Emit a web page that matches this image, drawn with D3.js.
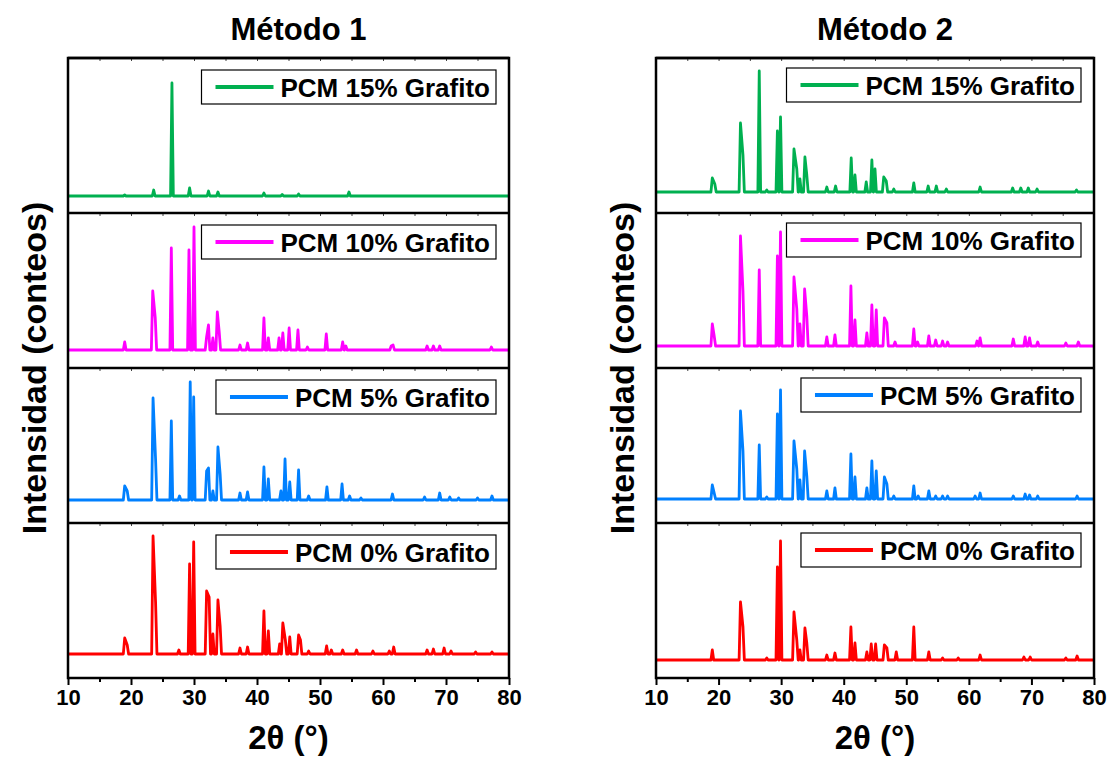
<!DOCTYPE html>
<html>
<head>
<meta charset="utf-8">
<script src="https://cdn.jsdelivr.net/npm/d3@7"></script>
<style>
  html, body { margin: 0; padding: 0; background: #fff; }
  svg { display: block; }
  text { font-family: "Liberation Sans", Arial, sans-serif; font-weight: bold; fill: #000; }
</style>
</head>
<body>
<svg id="chart" width="1108" height="757"></svg>
<script>
// X-ray diffraction patterns of the PCM with graphite, two preparation methods.
// Each pattern: a flat baseline (counts) plus a list of reflections [2θ (°), height above baseline (counts)].
const methodTitles = ["Método 1", "Método 2"];
const seriesLabels = ["PCM 15% Grafito", "PCM 10% Grafito", "PCM 5% Grafito", "PCM 0% Grafito"];
const seriesColors = ["#00b050", "#ff00ff", "#0080ff", "#ff0000"];
const xTicks = [10, 20, 30, 40, 50, 60, 70, 80];

// Método 1
const m1Baselines = [170, 180, 230, 240];
const m1_15 = [[19.0,10],[23.6,60],[26.5,1130],[29.3,80],[32.3,50],[33.8,40],[41.1,30],[44.0,15],[46.6,20],[54.6,40]];
const m1_10 = [[19.0,80],[23.45,590],[23.85,320],[26.4,1020],[29.2,1000],[30.0,1230],[32.0,130],[32.3,250],[33.0,120],[33.7,380],[34.0,180],[37.3,50],[38.5,70],[41.1,320],[41.8,120],[43.5,120],[44.1,170],[45.1,220],[46.5,200],[48.0,30],[51.0,160],[53.6,80],[54.1,40],[61.3,40],[61.6,50],[67.0,40],[68.0,40],[69.0,40],[77.2,30]];
const m1_5 = [[19.0,140],[19.4,90],[23.5,1020],[23.9,410],[26.4,790],[27.7,40],[29.4,1180],[29.95,1030],[32.0,290],[32.3,320],[33.0,90],[33.8,530],[34.15,260],[37.3,70],[38.5,80],[41.1,330],[41.8,210],[43.8,90],[44.45,410],[45.2,180],[46.6,300],[48.2,40],[51.1,130],[53.5,160],[54.7,40],[56.5,20],[61.5,60],[66.6,30],[69.0,70],[70.6,30],[72.0,20],[75.0,20],[77.3,40]];
const m1_0 = [[19.0,160],[19.4,90],[23.5,1180],[23.9,520],[27.6,40],[29.3,900],[29.95,1120],[32.0,630],[32.4,570],[33.0,200],[33.8,540],[34.15,280],[37.3,60],[38.5,70],[41.1,430],[41.8,230],[43.6,100],[44.1,310],[44.5,140],[45.2,170],[46.6,190],[46.9,140],[48.2,30],[51.05,80],[51.8,40],[53.6,40],[55.8,40],[58.4,30],[61.0,30],[61.7,70],[67.0,40],[68.0,50],[69.7,60],[70.8,30],[74.7,20],[77.3,20]];

// Método 2
const m2Baselines = [210, 220, 240, 180];
const m2_15 = [[19.0,140],[19.4,80],[23.5,690],[23.9,370],[26.5,1210],[27.7,20],[29.4,610],[29.9,750],[32.05,430],[32.5,230],[33.0,130],[33.8,350],[34.1,170],[37.3,50],[38.7,60],[41.2,340],[41.8,170],[43.6,100],[44.5,320],[45.0,230],[46.4,150],[46.8,110],[48.0,30],[51.2,90],[53.5,60],[54.8,60],[56.4,30],[61.8,50],[67.0,40],[68.3,40],[69.5,40],[70.9,30],[77.2,20]];
const m2_10 = [[19.0,220],[19.3,100],[23.5,1100],[23.9,550],[26.5,760],[29.4,900],[29.9,1140],[32.05,690],[32.5,370],[33.0,220],[33.75,570],[34.1,300],[37.3,90],[38.6,110],[41.15,600],[41.8,260],[43.7,130],[44.5,410],[45.2,360],[46.5,280],[46.9,230],[48.2,40],[51.2,170],[51.8,40],[53.6,100],[54.7,60],[55.8,50],[56.6,40],[61.3,50],[61.8,80],[67.1,70],[69.0,90],[69.7,80],[71.0,40],[75.5,30],[77.5,40]];
const m2_5 = [[19.0,140],[19.3,60],[23.5,880],[23.9,480],[26.5,540],[27.7,20],[29.4,850],[29.9,1090],[32.05,580],[32.5,300],[33.0,190],[33.75,480],[34.1,230],[37.3,80],[38.6,110],[41.15,450],[41.8,220],[43.7,110],[44.5,380],[45.2,280],[46.5,220],[46.9,150],[48.0,30],[51.2,130],[51.9,30],[53.6,80],[54.7,30],[55.8,30],[56.6,30],[61.0,30],[61.8,60],[67.1,30],[69.0,50],[69.7,40],[71.0,30],[77.3,30]];
const m2_0 = [[19.0,100],[23.5,580],[23.9,330],[27.7,20],[29.4,930],[29.9,1190],[32.05,480],[32.5,200],[33.0,100],[33.8,320],[34.1,170],[37.3,50],[38.6,70],[41.15,330],[41.8,170],[43.7,80],[44.4,160],[45.1,160],[46.5,150],[46.9,120],[48.4,80],[51.2,330],[53.6,80],[55.8,20],[58.3,20],[61.8,50],[68.8,30],[69.8,30],[75.5,20],[77.3,40]];

const methods = [
  { title: methodTitles[0], baselines: m1Baselines, patterns: [m1_15, m1_10, m1_5, m1_0], x0: 68, x1: 509, legendTop: 12, yTitleX: 46 },
  { title: methodTitles[1], baselines: m2Baselines, patterns: [m2_15, m2_10, m2_5, m2_0], x0: 656, x1: 1094, legendTop: 10, yTitleX: 634 }
];

const svg = d3.select("#chart");
const plotTop = 58, subH = 155, nSub = 4;
const plotBottom = plotTop + subH * nSub;
const halfWidth = 0.22;   // half width of a reflection (°)
const mergeGap = 0.5;     // reflections closer than this share a flank

// vertices of a pattern: baseline ends, and for each reflection its feet and apex
function patternPoints(peaks, base) {
  const sorted = peaks.slice().sort((a, b) => a[0] - b[0]);
  const pts = [[10, base]];
  sorted.forEach((p, i) => {
    const prev = sorted[i - 1], next = sorted[i + 1];
    if (!prev || p[0] - prev[0] >= mergeGap) pts.push([p[0] - halfWidth, base]);
    pts.push([p[0], base + p[1]]);
    if (!next || next[0] - p[0] >= mergeGap) pts.push([p[0] + halfWidth, base]);
  });
  pts.push([80, base]);
  return pts;
}

methods.forEach(m => {
  const x = d3.scaleLinear().domain([10, 80]).range([m.x0, m.x1]);
  const g = svg.append("g");

  m.patterns.forEach((peaks, i) => {
    const y0 = plotTop + subH * i, y1 = y0 + subH;
    const y = d3.scaleLinear().domain([0, 1550]).range([y1, y0]);

    // inward ticks on the top edge of each stacked panel
    g.append("g")
      .attr("transform", `translate(0,${y0})`)
      .call(d3.axisTop(x).tickValues(d3.range(15, 80, 5)).tickSize(-3).tickFormat(""))
      .call(a => a.select(".domain").remove())
      .call(a => a.selectAll("line").attr("stroke", "#444").attr("stroke-width", 1));

    const line = d3.line().x(d => x(d[0])).y(d => y(d[1]));
    g.append("path")
      .datum(patternPoints(peaks, m.baselines[i]))
      .attr("d", line)
      .attr("fill", "none")
      .attr("stroke", seriesColors[i])
      .attr("stroke-width", 2.8)
      .attr("stroke-linejoin", "round");

    // legend
    const lg = g.append("g");
    const label = lg.append("text")
      .attr("font-size", 26)
      .text(seriesLabels[i]);
    const tw = label.node().getComputedTextLength();
    const boxH = 34;
    const boxW = 14 + 58 + 7 + tw + 6;
    const bx = m.x1 - 13 - boxW, by = y0 + m.legendTop;
    lg.insert("rect", "text")
      .attr("x", bx).attr("y", by).attr("width", boxW).attr("height", boxH)
      .attr("fill", "#fff").attr("stroke", "#000").attr("stroke-width", 1.2);
    lg.append("line")
      .attr("x1", bx + 14).attr("x2", bx + 72)
      .attr("y1", by + boxH / 2).attr("y2", by + boxH / 2)
      .attr("stroke", seriesColors[i]).attr("stroke-width", 4);
    label.attr("x", bx + 79).attr("y", by + boxH / 2 + 9.5);

    // separator / frame edge
    g.append("line")
      .attr("x1", m.x0).attr("x2", m.x1).attr("y1", y0).attr("y2", y0)
      .attr("stroke", "#000").attr("stroke-width", 2.5);
  });

  // outer frame
  g.append("rect")
    .attr("x", m.x0).attr("y", plotTop).attr("width", m.x1 - m.x0).attr("height", plotBottom - plotTop)
    .attr("fill", "none").attr("stroke", "#000").attr("stroke-width", 2.5);

  // bottom axis with labels
  const ax = g.append("g").attr("transform", `translate(0,${plotBottom})`);
  ax.call(d3.axisBottom(x).tickValues(xTicks).tickSize(7).tickPadding(4).tickFormat(d3.format("d")))
    .call(a => a.select(".domain").remove())
    .call(a => a.selectAll("line").attr("stroke", "#000").attr("stroke-width", 2))
    .call(a => a.selectAll("text").attr("font-size", 22).attr("font-family", "Liberation Sans, Arial, sans-serif").attr("font-weight", "bold"));
  g.append("g").attr("transform", `translate(0,${plotBottom})`)
    .call(d3.axisBottom(x).tickValues(d3.range(15, 80, 10)).tickSize(4).tickFormat(""))
    .call(a => a.select(".domain").remove())
    .call(a => a.selectAll("line").attr("stroke", "#000").attr("stroke-width", 2));

  const cx = (m.x0 + m.x1) / 2;
  g.append("text").attr("x", cx + 10).attr("y", 40)
    .attr("text-anchor", "middle").attr("font-size", 31).text(m.title);
  g.append("text").attr("x", cx).attr("y", 749)
    .attr("text-anchor", "middle").attr("font-size", 33).text("2θ (°)");
  g.append("text")
    .attr("transform", `translate(${m.yTitleX},${(plotTop + plotBottom) / 2}) rotate(-90)`)
    .attr("text-anchor", "middle").attr("font-size", 34).text("Intensidad (conteos)");
});
</script>
</body>
</html>
